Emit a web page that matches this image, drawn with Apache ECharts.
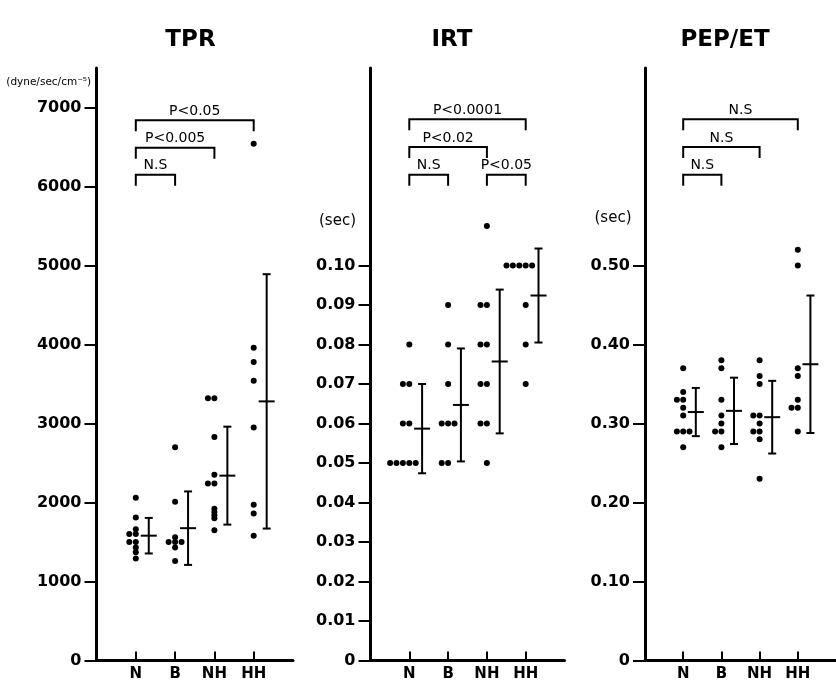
<!DOCTYPE html>
<html>
<head>
<meta charset="utf-8">
<script src="https://cdn.jsdelivr.net/npm/echarts@6/dist/echarts.min.js"></script>
<style>
  html, body { margin: 0; padding: 0; background: #fff; }
  #chart { width: 836px; height: 684px; }
</style>
</head>
<body>
<div id="chart"></div>
<script>
// Groups shown on every panel
const groups = ['N', 'B', 'NH', 'HH'];

// TPR (dyne/sec/cm-5), individual subjects per group
const tprN  = [2060, 1810, 1660, 1600, 1600, 1500, 1500, 1430, 1370, 1290];
const tprB  = [2700, 2010, 1560, 1500, 1500, 1500, 1430, 1260];
const tprNH = [3320, 3320, 2830, 2350, 2240, 2240, 1920, 1880, 1840, 1800, 1650];
const tprHH = [6540, 3960, 3780, 3540, 2950, 1970, 1860, 1580];
const tprMean = [1580, 1675, 2340, 3280];
const tprSD   = [225, 465, 620, 1610];
const tprTicks = [0, 1000, 2000, 3000, 4000, 5000, 6000, 7000];

// IRT (sec)
const irtN  = [0.08, 0.07, 0.07, 0.06, 0.06, 0.05, 0.05, 0.05, 0.05, 0.05];
const irtB  = [0.09, 0.08, 0.07, 0.06, 0.06, 0.06, 0.05, 0.05];
const irtNH = [0.11, 0.09, 0.09, 0.08, 0.08, 0.07, 0.07, 0.06, 0.06, 0.05];
const irtHH = [0.10, 0.10, 0.10, 0.10, 0.10, 0.09, 0.08, 0.07];
const irtMean = [0.0587, 0.0647, 0.0757, 0.0924];
const irtSD   = [0.0113, 0.0143, 0.0182, 0.0119];
const irtTicks = [0, 0.01, 0.02, 0.03, 0.04, 0.05, 0.06, 0.07, 0.08, 0.09, 0.10];

// PEP/ET
const pepN  = [0.37, 0.34, 0.33, 0.33, 0.32, 0.31, 0.29, 0.29, 0.29, 0.27];
const pepB  = [0.38, 0.37, 0.33, 0.31, 0.30, 0.29, 0.29, 0.27];
const pepNH = [0.38, 0.36, 0.35, 0.31, 0.31, 0.30, 0.29, 0.29, 0.28, 0.23];
const pepHH = [0.52, 0.50, 0.37, 0.36, 0.33, 0.32, 0.32, 0.29];
const pepMean = [0.3145, 0.316, 0.308, 0.375];
const pepSD   = [0.0305, 0.042, 0.046, 0.087];
const pepTicks = [0, 0.10, 0.20, 0.30, 0.40, 0.50];

// Significance brackets: [from group, to group, bracket level, label]
const tprBrackets = [
  ['N', 'B', 6150, 'N.S'],
  ['N', 'NH', 6490, 'P<0.005'],
  ['N', 'HH', 6840, 'P<0.05']
];
const irtBrackets = [
  ['N', 'B', 0.123, 'N.S'],
  ['NH', 'HH', 0.123, 'P<0.05'],
  ['N', 'NH', 0.130, 'P<0.02'],
  ['N', 'HH', 0.137, 'P<0.0001']
];
const pepBrackets = [
  ['N', 'B', 0.615, 'N.S'],
  ['N', 'NH', 0.650, 'N.S'],
  ['N', 'HH', 0.685, 'N.S']
];

const INK = '#000';
const FONT = '"DejaVu Sans", sans-serif';
const DOT_STEP = 0.165;   // sideways step between tied points (x units)
const BAR_SHIFT = 0.33;   // mean ± SD bar sits right of its dots
const CAP = 4, CROSS = 8, LEG = 11;

// Place tied values side by side within a group column
function columnPoints(values, col) {
  const counts = {};
  values.forEach(v => { counts[v] = (counts[v] || 0) + 1; });
  const seen = {};
  return values.map(v => {
    const n = counts[v];
    const k = seen[v] || 0;
    seen[v] = k + 1;
    const start = n >= 4 ? -(n - 2) : -Math.floor(n / 2);
    return [col + (start + k) * DOT_STEP, v];
  });
}

function panelDots(cols) {
  let pts = [];
  cols.forEach((vals, i) => { pts = pts.concat(columnPoints(vals, i + 1)); });
  return pts;
}

function barData(means, sds) {
  return means.map((m, i) => [i + 1 + BAR_SHIFT, m, sds[i]]);
}

function bracketData(list) {
  return list.map(b => [groups.indexOf(b[0]) + 1, groups.indexOf(b[1]) + 1, b[2]]);
}

function renderErrorBar(params, api) {
  const x = api.value(0), m = api.value(1), s = api.value(2);
  const top = api.coord([x, m + s]);
  const bot = api.coord([x, m - s]);
  const mid = api.coord([x, m]);
  const style = { stroke: INK, lineWidth: 2, fill: null };
  return {
    type: 'group',
    children: [
      { type: 'line', shape: { x1: top[0], y1: top[1], x2: bot[0], y2: bot[1] }, style },
      { type: 'line', shape: { x1: top[0] - CAP, y1: top[1], x2: top[0] + CAP, y2: top[1] }, style },
      { type: 'line', shape: { x1: bot[0] - CAP, y1: bot[1], x2: bot[0] + CAP, y2: bot[1] }, style },
      { type: 'line', shape: { x1: mid[0] - CROSS, y1: mid[1], x2: mid[0] + CROSS, y2: mid[1] }, style }
    ]
  };
}

function makeBracketRenderer(list) {
  return function (params, api) {
    const a = api.coord([api.value(0), api.value(2)]);
    const b = api.coord([api.value(1), api.value(2)]);
    return {
      type: 'group',
      children: [
        {
          type: 'polyline',
          shape: { points: [[a[0], a[1] + LEG], [a[0], a[1]], [b[0], b[1]], [b[0], b[1] + LEG]] },
          style: { stroke: INK, lineWidth: 2, fill: null }
        },
        {
          type: 'text',
          x: (a[0] + b[0]) / 2,
          y: a[1] - 9,
          style: {
            text: list[params.dataIndex][3],
            fill: INK,
            font: '14px ' + FONT,
            align: 'center',
            verticalAlign: 'middle'
          }
        }
      ]
    };
  };
}

const panels = [
  { left: 96.5, width: 196.5, max: 7500, ticks: tprTicks, fmt: v => String(v),
    dots: [tprN, tprB, tprNH, tprHH], mean: tprMean, sd: tprSD, brackets: tprBrackets },
  { left: 370.5, width: 194, max: 0.15, ticks: irtTicks, fmt: v => (v === 0 ? '0' : v.toFixed(2)),
    dots: [irtN, irtB, irtNH, irtHH], mean: irtMean, sd: irtSD, brackets: irtBrackets },
  { left: 645, width: 198, max: 0.75, ticks: pepTicks, fmt: v => (v === 0 ? '0' : v.toFixed(2)),
    dots: [pepN, pepB, pepNH, pepHH], mean: pepMean, sd: pepSD, brackets: pepBrackets }
];

const grid = [], xAxis = [], yAxis = [], series = [];
panels.forEach((p, i) => {
  grid.push({ left: p.left, top: 68, width: p.width, height: 592.5 });
  xAxis.push({
    type: 'value', gridIndex: i, min: 0, max: 5,
    splitLine: { show: false },
    axisLine: { show: true, onZero: false, lineStyle: { color: INK, width: 3 } },
    axisTick: { show: true, inside: true, length: 9, customValues: [1, 2, 3, 4],
                lineStyle: { color: INK, width: 2 } },
    axisLabel: { customValues: [1, 2, 3, 4], formatter: v => groups[Math.round(v) - 1],
                 color: INK, fontSize: 15, fontWeight: 'bold', fontFamily: FONT, margin: 6 }
  });
  yAxis.push({
    type: 'value', gridIndex: i, min: 0, max: p.max,
    splitLine: { show: false },
    axisLine: { show: true, onZero: false, lineStyle: { color: INK, width: 3 } },
    axisTick: { show: true, length: 12, customValues: p.ticks, lineStyle: { color: INK, width: 2 } },
    axisLabel: { customValues: p.ticks, formatter: p.fmt, color: INK, fontSize: 16,
                 fontWeight: 'bold', fontFamily: FONT, margin: 15 }
  });
  series.push({
    type: 'scatter', xAxisIndex: i, yAxisIndex: i,
    symbol: 'circle', symbolSize: 6, itemStyle: { color: INK, opacity: 1 },
    data: panelDots(p.dots), silent: true
  });
  series.push({
    type: 'custom', xAxisIndex: i, yAxisIndex: i,
    renderItem: renderErrorBar, encode: { x: 0, y: 1 },
    data: barData(p.mean, p.sd), silent: true
  });
  series.push({
    type: 'custom', xAxisIndex: i, yAxisIndex: i,
    renderItem: makeBracketRenderer(p.brackets), encode: { x: [0, 1], y: 2 },
    data: bracketData(p.brackets), silent: true
  });
});

const titleStyle = (text) => ({
  text, fill: INK, font: 'bold 23px ' + FONT, align: 'center', verticalAlign: 'middle'
});

const chart = echarts.init(document.getElementById('chart'), null, { renderer: 'canvas' });
chart.setOption({
  backgroundColor: '#fff',
  animation: false,
  grid, xAxis, yAxis, series,
  graphic: [
    { type: 'text', x: 190.5, y: 40, style: titleStyle('TPR') },
    { type: 'text', x: 452, y: 40, style: titleStyle('IRT') },
    { type: 'text', x: 725, y: 40, style: titleStyle('PEP/ET') },
    { type: 'text', x: 91, y: 82, style: { text: '(dyne/sec/cm\u207B\u2075)', fill: INK,
        font: '10.5px ' + FONT, align: 'right', verticalAlign: 'middle' } },
    { type: 'text', x: 337.5, y: 221, style: { text: '(sec)', fill: INK,
        font: '15px ' + FONT, align: 'center', verticalAlign: 'middle' } },
    { type: 'text', x: 613, y: 218.5, style: { text: '(sec)', fill: INK,
        font: '15px ' + FONT, align: 'center', verticalAlign: 'middle' } }
  ]
});
</script>
</body>
</html>
